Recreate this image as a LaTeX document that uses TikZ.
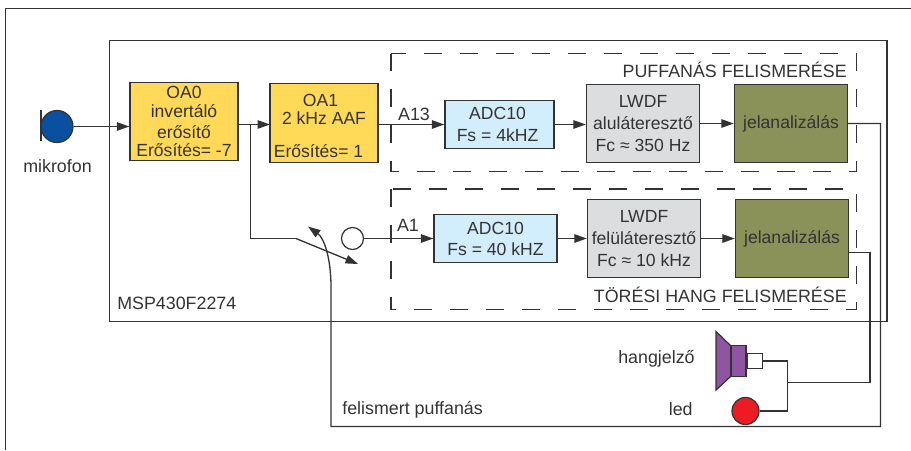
\documentclass[tikz,border=0pt]{standalone}
\usepackage{fontspec}
\setmainfont{Liberation Sans}
\usetikzlibrary{positioning}
\usetikzlibrary{calc}
\usetikzlibrary{arrows.meta}

\definecolor{linecol}{HTML}{333333}
\definecolor{oayellow}{HTML}{FFD957}
\definecolor{adcblue}{HTML}{D2EDFB}
\definecolor{lwdfgray}{HTML}{DCDDDE}
\definecolor{jelolive}{HTML}{8A9259}
\definecolor{spkpurple}{HTML}{9055A2}
\definecolor{ledred}{HTML}{ED1C24}
\definecolor{micblue}{HTML}{0A50A1}

\tikzset{
  block/.style={draw=linecol,line width=0.8pt,inner sep=0pt,align=center,text=linecol,font=\fontsize{10}{10.4}\selectfont},
  oablock/.style={block,fill=oayellow,minimum width=2.16cm,minimum height=1.57cm},
  adcblock/.style={block,fill=adcblue,minimum height=0.97cm},
  lwdfblock/.style={block,fill=lwdfgray,minimum width=2.26cm,minimum height=1.57cm},
  jelblock/.style={block,fill=jelolive,minimum width=2.26cm,minimum height=1.57cm},
  txt/.style={inner sep=0pt,text=linecol,font=\fontsize{10.15}{12}\selectfont},
  wire/.style={draw=linecol,line width=0.75pt},
  flow/.style={wire,-{Triangle[length=2.5mm,width=1.7mm]}},
  dashbox/.style={draw=linecol,line width=0.7pt,dash pattern=on 0.36cm off 0.36cm}
}

\begin{document}
\begin{tikzpicture}[x=0.02cm,y=-0.02cm]
\useasboundingbox (0,0) rectangle (911,450);

%frames
\draw[linecol,line width=0.7pt] (5.5,450) -- (5.5,8.5) -- (911,8.5);
\draw[linecol,line width=0.8pt] (109.5,40.5) rectangle (887,321.5);
\draw[dashbox] (391,53.5) rectangle (856.5,171.5);
\draw[dashbox] (391,189) rectangle (856.5,309.5);

%mikrofon
\node[circle,draw=linecol,fill=micblue,line width=0.7pt,minimum size=0.64cm,inner sep=0pt] (mic) at (57,126.5) {};
\draw[linecol,line width=0.7pt] (41,110) -- (41,141);
\node[txt] (miclabel) at (57.5,166) {mikrofon};

%blokkok
\node[oablock] (oa0) at (184,121.5) {OA0\\invertáló\\[1.5pt]erősítő\\Erősítés= -7};
\node[oablock] (oa1) at (324,123) {\rule{0pt}{10pt}OA1\hspace*{0.14cm}\\2 kHz AAF\hspace*{0.14cm}\\[8pt]Erősítés= 1\hspace*{0.22cm}};

\node[adcblock,minimum width=2.18cm] (adc1) at (499.5,124.5) {ADC10\hspace*{0.08cm}\\[2.5pt]Fs = 4kHZ\hspace*{0.08cm}};
\node[lwdfblock] (lwdf1) at (643,123.5) {LWDF\\[2pt]aluláteresztő\\[2pt]Fc ≈ 350 Hz};
\node[jelblock] (jel1) at (791,123.5) {jelanalizálás};

\node[adcblock,minimum width=2.46cm] (adc2) at (495.5,238.5) {ADC10\\[1.5pt]Fs = 40 kHZ};
\node[lwdfblock] (lwdf2) at (644,238.5) {LWDF\\[2pt]felüláteresztő\\[2pt]Fc ≈ 10 kHz};
\node[jelblock] (jel2) at (792,238.5) {jelanalizálás};

%feliratok
\node[txt,anchor=east] (title1) at (847,70) {PUFFANÁS FELISMERÉSE};
\node[txt,anchor=east] (title2) at (847,295) {TÖRÉSI HANG FELISMERÉSE};
\node[txt] (a13) at (414,114) {A13};
\node[txt] (a1) at (408,225) {A1};
\node[txt,anchor=west] (msp) at (117,303) {MSP430F2274};
\node[txt,anchor=west] (fel) at (342,410) {felismert puffanás};
\node[txt,anchor=east] (hang) at (695,359) {hangjelző};
\node[txt,anchor=east] (ledlabel) at (693,409) {led};

%kapcsolo
\coordinate (swa) at (296,238.5);
\coordinate (swb) at (358,264);
\coordinate (swc) at (308,226.5);
\node[circle,draw=linecol,line width=0.7pt,minimum size=0.44cm,inner sep=0pt] (swin) at (352.5,238.5) {};

%hangjelzo
\draw[draw=linecol,fill=spkpurple,line width=0.7pt] (716,331.5) -- (731,346) -- (731,376) -- (716,390) -- cycle;
\node[draw=linecol,fill=spkpurple,line width=0.7pt,minimum width=0.3cm,minimum height=0.62cm,inner sep=0pt] (spk) at (738.5,361) {};
\node[draw=linecol,fill=white,line width=0.7pt,minimum width=0.31cm,minimum height=0.29cm,inner sep=0pt,right=0pt of spk] (spkin) {};
\node[circle,draw=linecol,fill=ledred,line width=0.7pt,minimum size=0.54cm,inner sep=0pt] (led) at (745.5,411) {};

%osszekottetesek
\draw[flow] (mic.east) -- (mic.east -| oa0.west);
\coordinate (oa1in) at (270,124.5);
\draw[flow] (oa0.east |- oa1in) -- (oa1in);
\draw[wire] (250.5,124.5) |- (swa);
\draw[flow] (swa) -- (swb);
\draw[flow] (oa1.east |- adc1.west) -- (adc1.west);
\draw[flow] (adc1.east) -- (adc1.east -| lwdf1.west);
\draw[flow] (lwdf1.east) -- (lwdf1.east -| jel1.west);
\draw[flow] (swin.east) -- (adc2.west);
\draw[flow] (adc2.east) -- (adc2.east -| lwdf2.west);
\draw[flow] (lwdf2.east) -- (lwdf2.east -| jel2.west);

%visszacsatolas
\draw[flow] (jel1.east) -| (880.5,426.5) -| (331,287) .. controls (331,258) and (324,238) .. (swc);

%jelzok
\coordinate (jun) at (787.5,382.5);
\draw[wire] (jel2.east |- 0,252.5) -| (870,382.5) -- (jun);
\draw[wire] (spkin.east) -| (jun) |- (led.east);
\end{tikzpicture}
\end{document}
